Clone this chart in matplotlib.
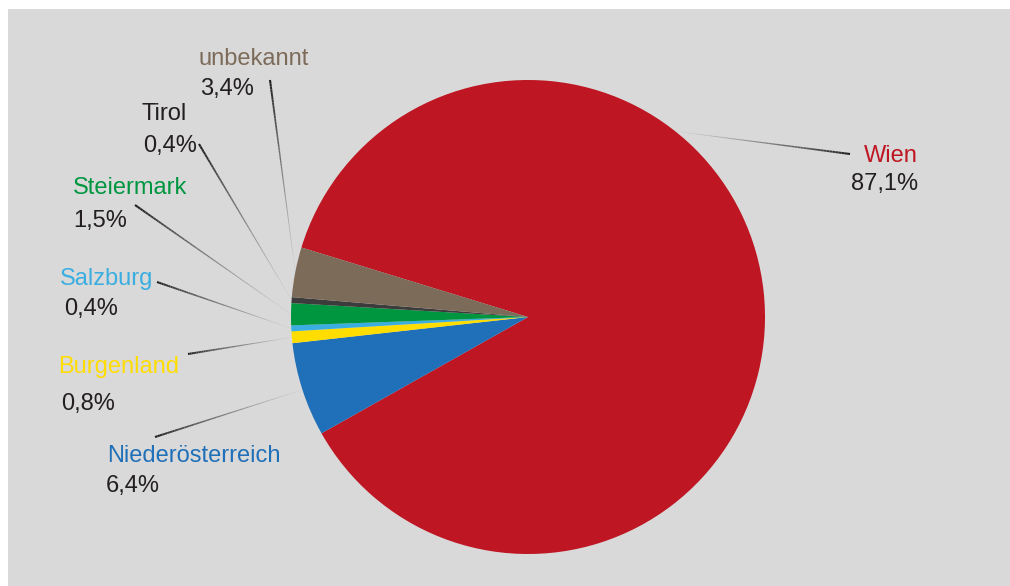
import numpy as np
import matplotlib
matplotlib.use("Agg")
import matplotlib.pyplot as plt
from matplotlib.collections import LineCollection
from matplotlib.colors import to_rgb
from matplotlib.patches import Rectangle

# Share of people by Bundesland (percent)
regions = ["Wien", "Niederösterreich", "Burgenland", "Salzburg",
           "Steiermark", "Tirol", "unbekannt"]
shares = [87.1, 6.4, 0.8, 0.4, 1.5, 0.4, 3.4]
value_labels = ["87,1%", "6,4%", "0,8%", "0,4%", "1,5%", "0,4%", "3,4%"]
slice_colors = ["#BE1622", "#1F70B8", "#FFDD00", "#3AAEE0",
                "#009640", "#3C3C3C", "#7D6B5A"]
name_colors = ["#BE1622", "#1F70B8", "#FFDD00", "#3AAEE0",
               "#009640", "#231F20", "#7D6B5A"]

# Label layout in pixel coordinates (y downwards):
# x, name baseline, value x, value baseline, alignment, leader start, leader angle override
label_layout = {
    "Wien":             (918, 162, 918, 190, "right", (850, 154), -51.6),
    "Niederösterreich": (107, 462, 106, 492, "left", (155, 437), None),
    "Burgenland":       (58, 373, 61, 410, "left", (188, 354), None),
    "Salzburg":         (60, 285, 64, 315, "left", (157, 282), None),
    "Steiermark":       (73, 194, 73, 227, "left", (135, 205), None),
    "Tirol":            (142, 120, 143, 152, "left", (199, 144), None),
    "unbekannt":        (199, 65, 200, 95, "left", (270, 80), None),
}

W, H = 1010, 586
CENTER = (528, 317)
RADIUS = 237
BG = "#D9D9D9"
TEXT_DARK = "#231F20"

fig = plt.figure(figsize=(W / 100, H / 100), dpi=100, facecolor="white")
ax = fig.add_axes([0, 0, 1, 1])
ax.add_patch(Rectangle((8, 9), W - 8, H - 9, facecolor=BG, edgecolor="none", zorder=0))

# y axis points down, so counterclockwise in data runs clockwise on screen
wedges, _ = ax.pie(shares, colors=slice_colors, startangle=-162.95,
                   counterclock=True, center=CENTER, radius=RADIUS,
                   wedgeprops=dict(linewidth=0), frame=True)
for w in wedges:
    w.set_zorder(2)

ax.set_xlim(0, W)
ax.set_ylim(H, 0)
ax.set_aspect("equal")
ax.axis("off")


def tapered_leader(p_start, p_end, n=60):
    """Leader line that fades and thins from the label toward the pie."""
    t = np.linspace(0, 1, n + 1)
    xs = p_start[0] + (p_end[0] - p_start[0]) * t
    ys = p_start[1] + (p_end[1] - p_start[1]) * t
    pts = np.column_stack([xs, ys]).reshape(-1, 1, 2)
    segs = np.concatenate([pts[:-1], pts[1:]], axis=1)
    tm = (t[:-1] + t[1:]) / 2
    dark = np.array(to_rgb("#1A1A1A"))
    light = np.array(to_rgb("#CFCFCF"))
    cols = [tuple(dark * (1 - v) + light * v) for v in tm ** 0.8]
    widths = 1.5 * (1 - tm) + 0.2 * tm
    lc = LineCollection(segs, colors=cols, linewidths=widths, zorder=1,
                        capstyle="butt")
    ax.add_collection(lc)


for w, name, val, ncol in zip(wedges, regions, value_labels, name_colors):
    nx, ny, vx, vy, ha, start, ang = label_layout[name]
    if ang is None:
        ang = (w.theta1 + w.theta2) / 2
    a = np.deg2rad(ang)
    end = (CENTER[0] + RADIUS * np.cos(a), CENTER[1] + RADIUS * np.sin(a))
    tapered_leader(start, end)
    ax.text(nx, ny, name, color=ncol, fontsize=17, family="Liberation Sans",
            ha=ha, va="baseline", zorder=3)
    ax.text(vx, vy, val, color=TEXT_DARK, fontsize=17, family="Liberation Sans",
            ha=ha, va="baseline", zorder=3)

fig.savefig("out.png", dpi=100, facecolor="white")
